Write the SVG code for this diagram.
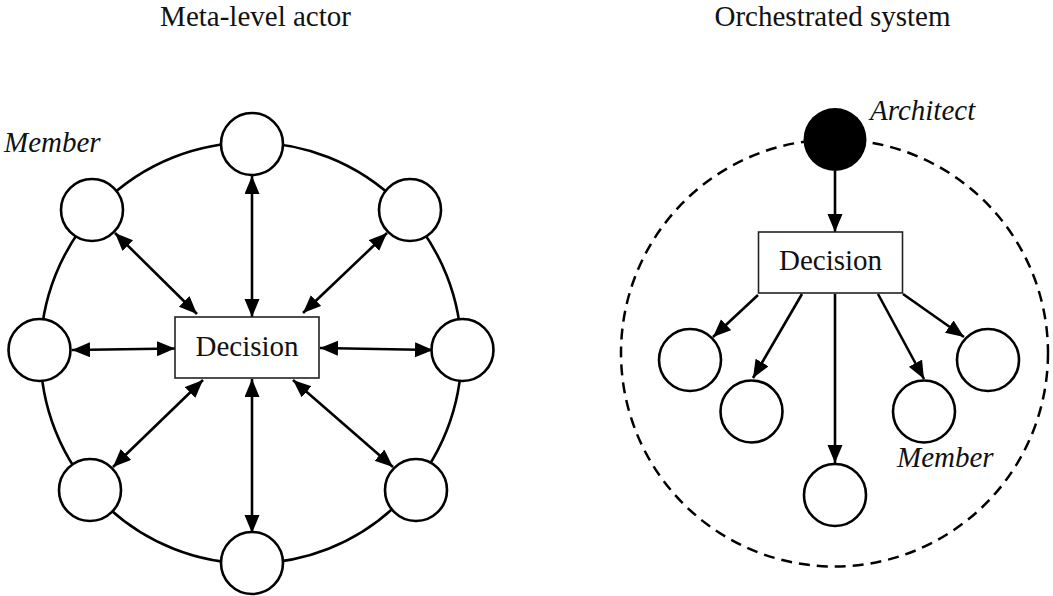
<svg xmlns="http://www.w3.org/2000/svg" width="1053" height="596" viewBox="0 0 1053 596">
<defs>
<style>
.t{font-family:"Liberation Serif","Times New Roman",serif;font-size:29px;fill:#111;}
.i{font-style:italic;}
.m{fill:#fff;stroke:#000;stroke-width:2.6;}
.box{fill:#fff;stroke:#222;stroke-width:1.6;}
.c{stroke:#000;stroke-width:2.6;fill:none;}
.a1{marker-end:url(#ah);}
.a2{marker-start:url(#ah);marker-end:url(#ah);}
</style>
<marker id="ah" markerUnits="userSpaceOnUse" markerWidth="20" markerHeight="16" refX="18" refY="7.5" orient="auto-start-reverse" viewBox="0 0 20 16">
<path d="M0,0 L18,7.5 L0,15 z" fill="#000"/>
</marker>
</defs>
<rect width="1053" height="596" fill="#fff"/>
<text class="t" x="255.5" y="26" text-anchor="middle">Meta-level actor</text>
<text class="t" x="832.5" y="26" text-anchor="middle">Orchestrated system</text>

<circle cx="251" cy="353" r="210.5" fill="none" stroke="#000" stroke-width="2.6"/>
<circle cx="834.5" cy="353" r="213.5" fill="none" stroke="#000" stroke-width="2.5" stroke-dasharray="11 7"/>

<g id="connectors">
<line class="c a2" x1="252" y1="176" x2="252" y2="317"/>
<line class="c a2" x1="252" y1="379" x2="252" y2="533"/>
<line class="c a2" x1="72" y1="350" x2="175" y2="348.5"/>
<line class="c a2" x1="320" y1="348" x2="433" y2="350"/>
<line class="c a2" x1="115" y1="233" x2="197" y2="314"/>
<line class="c a2" x1="387" y1="233" x2="303" y2="313"/>
<line class="c a2" x1="203" y1="380" x2="113" y2="467"/>
<line class="c a2" x1="293" y1="380" x2="393" y2="467"/>
<line class="c a1" x1="835" y1="171" x2="835" y2="232"/>
<line class="c a1" x1="758" y1="295" x2="713" y2="337"/>
<line class="c a1" x1="802" y1="294" x2="753" y2="378"/>
<line class="c a1" x1="835" y1="294" x2="835" y2="463"/>
<line class="c a1" x1="878" y1="294" x2="924" y2="379"/>
<line class="c a1" x1="903" y1="294" x2="964" y2="337"/>
</g>

<g id="decision-left"><rect class="box" x="175" y="317" width="144" height="61"/><text class="t" x="247" y="356" text-anchor="middle">Decision</text></g>
<g id="member-top"><circle class="m" cx="252" cy="144" r="31"/></g>
<g id="member-ul"><circle class="m" cx="92" cy="210" r="31"/></g>
<g id="member-ur"><circle class="m" cx="410" cy="210" r="31"/></g>
<g id="member-l"><circle class="m" cx="39.5" cy="350" r="31"/></g>
<g id="member-r"><circle class="m" cx="462.5" cy="350" r="31"/></g>
<g id="member-ll"><circle class="m" cx="90" cy="490" r="31"/></g>
<g id="member-lr"><circle class="m" cx="416" cy="490" r="31"/></g>
<g id="member-b"><circle class="m" cx="252" cy="563" r="31"/></g>
<g id="label-member-left"><text class="t i" x="4" y="152">Member</text></g>

<g id="architect"><circle cx="835" cy="139.5" r="31.5" fill="#000"/><text class="t i" x="870" y="120">Architect</text></g>
<g id="decision-right"><rect class="box" x="758.5" y="232" width="144" height="61"/><text class="t" x="830.5" y="270" text-anchor="middle">Decision</text></g>
<g id="m1"><circle class="m" cx="690" cy="360" r="31"/></g>
<g id="m2"><circle class="m" cx="751.5" cy="411.5" r="31"/></g>
<g id="m3"><circle class="m" cx="835" cy="495" r="31"/></g>
<g id="m4"><circle class="m" cx="924" cy="411.5" r="31"/></g>
<g id="m5"><circle class="m" cx="988" cy="360" r="31"/></g>
<g id="label-member-right"><text class="t i" x="897" y="467">Member</text></g>
</svg>
